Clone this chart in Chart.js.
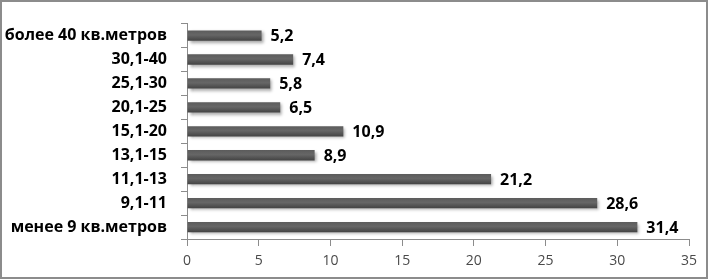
<!DOCTYPE html>
<html>
<head>
<meta charset="utf-8">
<script src="https://cdn.jsdelivr.net/npm/chart.js"></script>
<style>
html,body{margin:0;padding:0;background:#fff;}
#wrap{width:708px;height:279px;position:relative;}
</style>
</head>
<body>
<div id="wrap"><canvas id="c" width="708" height="279"></canvas></div>
<script>
const categories = ["более 40 кв.метров","30,1-40","25,1-30","20,1-25","15,1-20","13,1-15","11,1-13","9,1-11","менее 9 кв.метров"];
const values = [5.2,7.4,5.8,6.5,10.9,8.9,21.2,28.6,31.4];
const xTicks = [0,5,10,15,20,25,30,35];

const FONT = "'Open Sans', 'DejaVu Sans', sans-serif";

const decor = {
  id: 'decor',
  beforeDatasetsDraw(chart) {
    const ctx = chart.ctx;
    ctx.save();
    ctx.shadowColor = 'rgba(0,0,0,0.35)';
    ctx.shadowBlur = 3;
    ctx.shadowOffsetX = 2;
    ctx.shadowOffsetY = 2;
  },
  afterDatasetsDraw(chart) {
    const ctx = chart.ctx;
    ctx.restore();
    const meta = chart.getDatasetMeta(0);
    ctx.save();
    ctx.font = "bold 16px " + FONT;
    ctx.fillStyle = '#000';
    ctx.textAlign = 'left';
    ctx.textBaseline = 'middle';
    meta.data.forEach((bar, i) => {
      const txt = String(values[i]).replace('.', ',');
      ctx.fillText(txt, bar.x + 9, bar.y + 1);
    });
    ctx.restore();
  },
  afterDraw(chart) {
    const ctx = chart.ctx;
    ctx.save();
    ctx.strokeStyle = '#8c8c8c';
    ctx.lineWidth = 2;
    ctx.strokeRect(1, 1, chart.width - 2, chart.height - 2);
    ctx.restore();
  }
};

new Chart(document.getElementById('c'), {
  type: 'bar',
  data: {
    labels: categories,
    datasets: [{
      data: values,
      backgroundColor: (ctx) => {
        const chart = ctx.chart;
        const ys = chart.scales && chart.scales.y;
        if (!ys || ctx.dataIndex === undefined) return '#555555';
        const y = ys.getPixelForValue(ctx.dataIndex);
        if (!isFinite(y)) return '#555555';
        const g = chart.ctx.createLinearGradient(0, y - 6, 0, y + 6);
        g.addColorStop(0, '#5a5a5a');
        g.addColorStop(0.45, '#666666');
        g.addColorStop(1, '#3e3e3e');
        return g;
      },
      borderWidth: 0,
      categoryPercentage: 1.0,
      barPercentage: 0.43
    }]
  },
  options: {
    indexAxis: 'y',
    responsive: false,
    animation: false,
    devicePixelRatio: 1,
    layout: { padding: { left: 0, top: 11, right: 19, bottom: 0 } },
    plugins: { legend: { display: false }, tooltip: { enabled: false } },
    scales: {
      x: {
        min: 0, max: 35,
        afterBuildTicks(scale) { scale.ticks = xTicks.map(v => ({ value: v })); },
        afterFit(scale) { scale.height = 40; },
        grid: { drawOnChartArea: false, drawTicks: true, tickLength: 7, color: '#8c8c8c' },
        border: { display: true, color: '#8c8c8c', width: 1 },
        ticks: { color: '#4a4a4a', font: { family: FONT, size: 14 }, padding: 7, maxRotation: 0 }
      },
      y: {
        afterFit(scale) { scale.width = 187; },
        grid: { drawOnChartArea: false, drawTicks: true, tickLength: 6, color: '#8c8c8c', offset: true },
        border: { display: true, color: '#8c8c8c', width: 1 },
        ticks: { color: '#000', font: { family: FONT, size: 16, weight: 'bold' }, padding: 14 }
      }
    }
  },
  plugins: [decor]
});
</script>
</body>
</html>
